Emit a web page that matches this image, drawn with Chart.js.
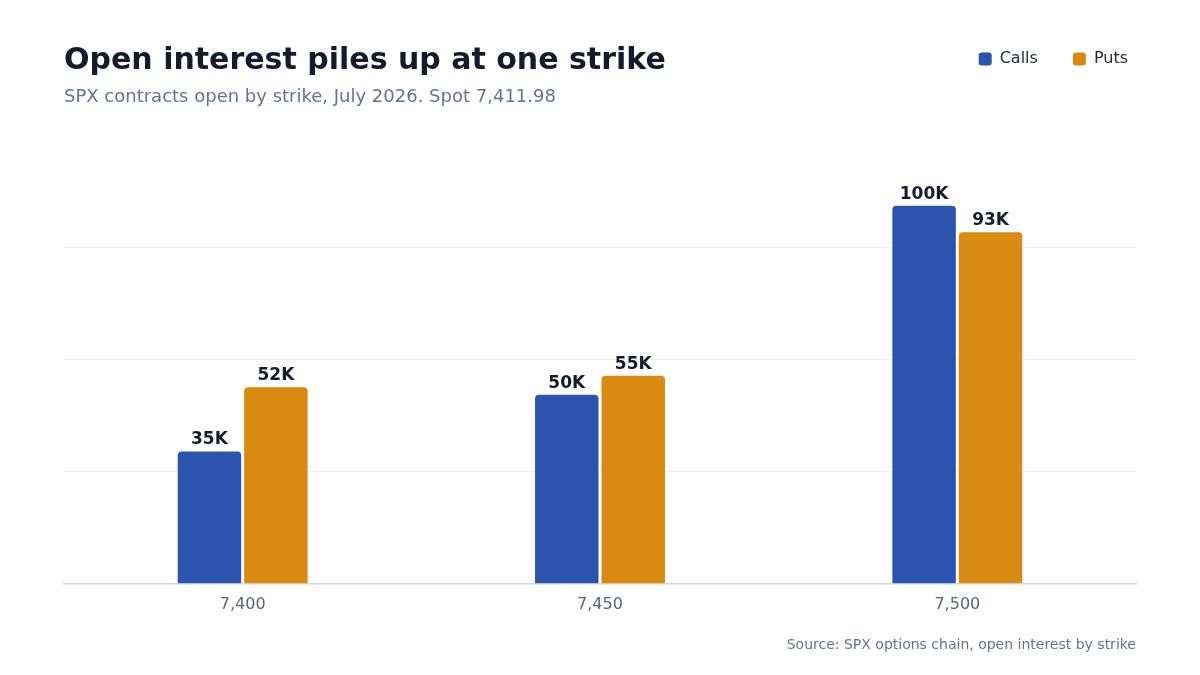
<!DOCTYPE html>
<html>
<head>
<meta charset="utf-8">
<script src="https://cdn.jsdelivr.net/npm/chart.js@4.4.1/dist/chart.umd.min.js"></script>
<style>
  html, body { margin: 0; padding: 0; background: #ffffff; }
  body { width: 1200px; height: 675px; position: relative; overflow: hidden; font-family: "DejaVu Sans", sans-serif; }
  #title { position: absolute; left: 64px; top: 41px; font-size: 30px; font-weight: bold; color: #141c2b; line-height: 36px; white-space: nowrap; }
  #subtitle { position: absolute; left: 64px; top: 85px; font-size: 18px; color: #64748b; line-height: 22px; white-space: nowrap; }
  #source { position: absolute; right: 64px; top: 634px; font-size: 14px; color: #64748b; line-height: 20px; white-space: nowrap; }
  #wrap { position: absolute; left: 0; top: 0; width: 1200px; height: 675px; }
</style>
</head>
<body>
<div id="wrap"><canvas id="c" width="1200" height="675"></canvas></div>
<div id="title">Open interest piles up at one strike</div>
<div id="subtitle">SPX contracts open by strike, July 2026. Spot 7,411.98</div>
<div id="source">Source: SPX options chain, open interest by strike</div>
<script>
const strikes = ["7,400", "7,450", "7,500"];
const calls = [35000, 50000, 100000];
const puts = [52000, 55000, 93000];
const seriesNames = ["Calls", "Puts"];
const yMax = 118700;

const colors = { calls: "#2c53ae", puts: "#d98a10" };
const LEGEND_PAD = 35;

const barLabels = {
  id: "barLabels",
  afterDatasetsDraw(chart) {
    const ctx = chart.ctx;
    ctx.save();
    ctx.font = "bold 17px 'DejaVu Sans'";
    ctx.fillStyle = "#141c2b";
    ctx.textAlign = "center";
    ctx.textBaseline = "bottom";
    chart.data.datasets.forEach((ds, i) => {
      const meta = chart.getDatasetMeta(i);
      meta.data.forEach((bar, j) => {
        const v = ds.data[j];
        ctx.fillText(Math.round(v / 1000) + "K", bar.x, bar.y - 3);
      });
    });
    ctx.restore();
  }
};

const legendSpace = {
  id: "legendSpace",
  beforeInit(chart) {
    const origFit = chart.legend.fit;
    chart.legend.fit = function () {
      origFit.bind(chart.legend)();
      this.height = 119;
    };
  },
  afterLayout(chart) {
    chart.legend.left += 27;
    chart.legend.right += 27;
  }
};

new Chart(document.getElementById("c"), {
  type: "bar",
  data: {
    labels: strikes,
    datasets: [
      { label: seriesNames[0], data: calls, backgroundColor: colors.calls, borderRadius: { topLeft: 4, topRight: 4 }, borderSkipped: "bottom", barPercentage: 0.955, categoryPercentage: 0.372 },
      { label: seriesNames[1], data: puts, backgroundColor: colors.puts, borderRadius: { topLeft: 4, topRight: 4 }, borderSkipped: "bottom", barPercentage: 0.955, categoryPercentage: 0.372 }
    ]
  },
  options: {
    responsive: false,
    animation: false,
    devicePixelRatio: 1,
    layout: { padding: { left: 64, right: 64, top: 16, bottom: 58 } },
    plugins: {
      legend: {
        position: "top",
        align: "end",
        labels: {
          font: { family: "'DejaVu Sans'", size: 16 },
          color: "#1f2937",
          boxWidth: 13,
          boxHeight: 13,
          useBorderRadius: true,
          borderRadius: 3,
          padding: LEGEND_PAD
        }
      },
      tooltip: { enabled: false },
      title: { display: false }
    },
    scales: {
      x: {
        grid: { display: false },
        border: { display: true, color: "#d4d8de", width: 1.5 },
        ticks: { font: { family: "'DejaVu Sans'", size: 16 }, color: "#5a6478", padding: 3 }
      },
      y: {
        min: 0,
        max: yMax,
        ticks: { display: false, count: 5 },
        border: { display: false },
        grid: {
          drawTicks: false,
          lineWidth: 1,
          color: (c) => (c.index === 0 || c.tick.value >= yMax - 1) ? "rgba(0,0,0,0)" : "#eceef1"
        }
      }
    }
  },
  plugins: [legendSpace, barLabels]
});
</script>
</body>
</html>
